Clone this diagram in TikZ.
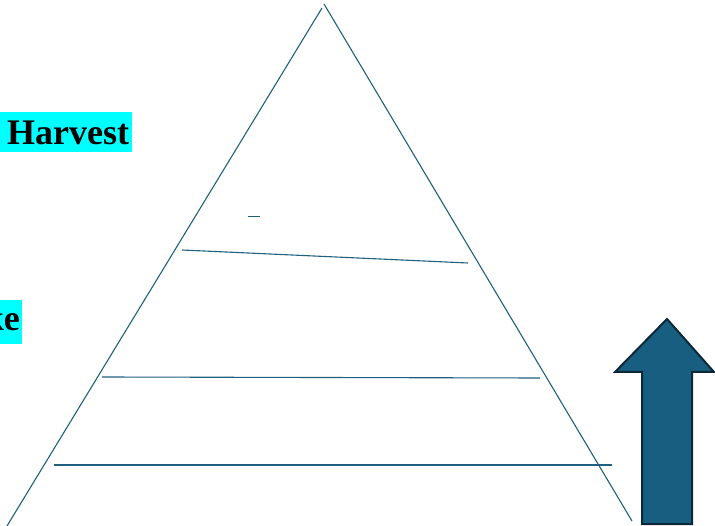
\documentclass[tikz,border=0pt]{standalone}
\usepackage{fontspec}
\setmainfont{Liberation Serif}
\definecolor{lineblue}{RGB}{31,96,128}
\definecolor{arrowfill}{RGB}{24,94,128}
\definecolor{arrowedge}{RGB}{12,40,56}
\definecolor{hlcyan}{RGB}{0,255,255}
\begin{document}
\begin{tikzpicture}[x=1pt,y=-1pt,
  tri/.style={draw=lineblue, line width=1.1pt},
  lbl/.style={font=\fontsize{36}{42}\selectfont\bfseries, inner sep=0pt},
  hl/.style={fill=hlcyan}]
\useasboundingbox (0,0) rectangle (715,526);
% highlighted labels
\fill[hl] (-5,112) rectangle (132,152);
\node[lbl, anchor=base west] (harvest) at (7,145) {Harvest};
\fill[hl] (-5,300) rectangle (22,344);
\node[lbl, anchor=base east] (ke) at (20,331) {ke};
% triangle
\coordinate (apexL) at (322,8);
\coordinate (apexR) at (324,4);
\coordinate (botL) at (7,526);
\coordinate (botR) at (632,521);
\draw[tri] (apexL) -- (botL);
\draw[tri] (apexR) -- (botR);
% inner lines
\coordinate (l1a) at (182,250); \coordinate (l1b) at (468,263);
\coordinate (l2a) at (102,377); \coordinate (l2b) at (540,378);
\coordinate (l3a) at (54,465); \coordinate (l3b) at (612,465);
\draw[tri] (l1a) -- (l1b);
\draw[tri] (l2a) -- (l2b);
\draw[tri] (l3a) -- (l3b);
\coordinate (da) at (248,216.5); \coordinate (db) at (260,216.5);
\draw[tri] (da) -- (db);
% arrow
\draw[fill=arrowfill, draw=arrowedge, line width=2pt, line join=miter]
  (667,319) -- (714,372) -- (692,372) -- (692,524) -- (642,524) -- (642,372) -- (615,372) -- cycle;
\end{tikzpicture}
\end{document}
